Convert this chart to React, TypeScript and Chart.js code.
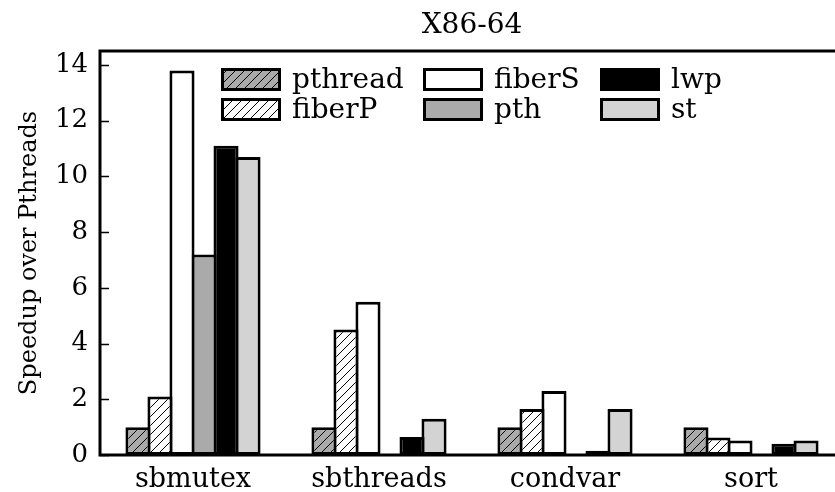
import React, { useEffect, useRef } from "react";
import { Chart, registerables } from "chart.js";

Chart.register(...registerables);

// ---- data ----
const categories = ["sbmutex", "sbthreads", "condvar", "sort"];
const seriesNames = ["pthread", "fiberP", "fiberS", "pth", "lwp", "st"];
const pthread = [1.0, 1.0, 1.0, 1.0];
const fiberP = [2.1, 4.5, 1.65, 0.63];
const fiberS = [13.8, 5.5, 2.3, 0.52];
const pth = [7.2, 0.04, 0.03, 0.02];
const lwp = [11.1, 0.65, 0.15, 0.4];
const st = [10.7, 1.3, 1.65, 0.52];
const yTicks = [0, 2, 4, 6, 8, 10, 12, 14];
const chartTitle = "X86-64";
const yAxisTitle = "Speedup over Pthreads";

const seriesValues = [pthread, fiberP, fiberS, pth, lwp, st];
const FONT = '"DejaVu Serif", serif';

function makeHatch(bg: string): CanvasPattern | string {
  const s = 9;
  const c = document.createElement("canvas");
  c.width = s;
  c.height = s;
  const g = c.getContext("2d");
  if (!g) return bg;
  g.fillStyle = bg;
  g.fillRect(0, 0, s, s);
  g.strokeStyle = "#000";
  g.lineWidth = 1;
  g.beginPath();
  g.moveTo(0, s);
  g.lineTo(s, 0);
  g.moveTo(-s, s);
  g.lineTo(s, -s);
  g.moveTo(0, 2 * s);
  g.lineTo(2 * s, 0);
  g.stroke();
  const p = g.createPattern(c, "repeat");
  return p || bg;
}

export default function App() {
  const ref = useRef<HTMLCanvasElement | null>(null);

  useEffect(() => {
    if (!ref.current) return;
    const fills: (CanvasPattern | string)[] = [
      makeHatch("#aaaaaa"),
      makeHatch("#ffffff"),
      "#ffffff",
      "#aaaaaa",
      "#000000",
      "#d3d3d3",
    ];

    const legendLayout = [
      [0, 0],
      [0, 1],
      [1, 0],
      [1, 1],
      [2, 0],
      [2, 1],
    ];

    const decor = {
      id: "decor",
      afterDatasetsDraw(chart: any) {
        const { ctx, chartArea: a, scales } = chart;
        const y = scales.y;
        ctx.save();
        ctx.strokeStyle = "#000";
        ctx.lineWidth = 1.5;
        yTicks.forEach((v) => {
          const py = Math.round(y.getPixelForValue(v)) + 0.5;
          ctx.beginPath();
          ctx.moveTo(a.left, py);
          ctx.lineTo(a.left + 9, py);
          ctx.moveTo(a.right, py);
          ctx.lineTo(a.right - 9, py);
          ctx.stroke();
        });
        ctx.lineWidth = 3;
        ctx.strokeRect(a.left, a.top, a.right - a.left, a.bottom - a.top);
        ctx.fillStyle = "#000";
        ctx.font = `28px ${FONT}`;
        ctx.textAlign = "center";
        ctx.textBaseline = "middle";
        ctx.fillText(chartTitle, (a.left + a.right) / 2, 26);
        const colX = [121, 323, 500];
        const rowY = [17, 47];
        const bw = 60;
        const bh = 23;
        ctx.font = `28px ${FONT}`;
        ctx.textAlign = "left";
        ctx.textBaseline = "middle";
        seriesNames.forEach((name, i) => {
          const [c, r] = legendLayout[i];
          const x = a.left + colX[c];
          const yy = a.top + rowY[r];
          ctx.fillStyle = fills[i];
          ctx.fillRect(x, yy, bw, bh);
          ctx.lineWidth = 3;
          ctx.strokeStyle = "#000";
          ctx.strokeRect(x + 1.5, yy + 1.5, bw - 3, bh - 3);
          ctx.fillStyle = "#000";
          ctx.fillText(name, x + bw + 11, yy + bh / 2 + 1);
        });
        ctx.restore();
      },
    };

    const chart = new Chart(ref.current, {
      type: "bar",
      data: {
        labels: categories,
        datasets: seriesNames.map((name, i) => ({
          label: name,
          data: seriesValues[i],
          backgroundColor: fills[i] as any,
          borderColor: "#000000",
          borderWidth: 3,
          borderSkipped: false,
          barPercentage: 1.14,
          categoryPercentage: 0.71,
        })),
      },
      options: {
        responsive: false,
        animation: false,
        devicePixelRatio: 1,
        layout: { padding: { top: 51, right: 16, left: 0, bottom: 0 } },
        plugins: {
          legend: { display: false },
          tooltip: { enabled: false },
          title: { display: false },
        },
        scales: {
          x: {
            type: "category",
            grid: { display: false, drawTicks: false },
            border: { display: false },
            ticks: {
              color: "#000",
              font: { family: FONT, size: 27 },
              padding: 9,
              maxRotation: 0,
              autoSkip: false,
            },
            afterFit: (s: any) => {
              s.height = 37;
            },
          },
          y: {
            type: "linear",
            min: 0,
            max: 14.5,
            grid: { display: false, drawTicks: false },
            border: { display: false },
            ticks: {
              color: "#000",
              font: { family: FONT, size: 26 },
              padding: 12,
            },
            afterBuildTicks: (s: any) => {
              s.ticks = yTicks.map((v) => ({ value: v }));
            },
            title: {
              display: true,
              text: yAxisTitle,
              color: "#000",
              font: { family: FONT, size: 24 },
              padding: { top: 15, bottom: 0 },
            },
            afterFit: (s: any) => {
              s.width = 100;
            },
          },
        },
      },
      plugins: [decor],
    });
    return () => chart.destroy();
  }, []);

  return (
    <div
      style={{
        position: "fixed",
        left: 0,
        top: 0,
        width: 835,
        height: 492,
        overflow: "hidden",
        background: "#fff",
      }}
    >
      <canvas ref={ref} width={860} height={492} style={{ display: "block" }} />
    </div>
  );
}
